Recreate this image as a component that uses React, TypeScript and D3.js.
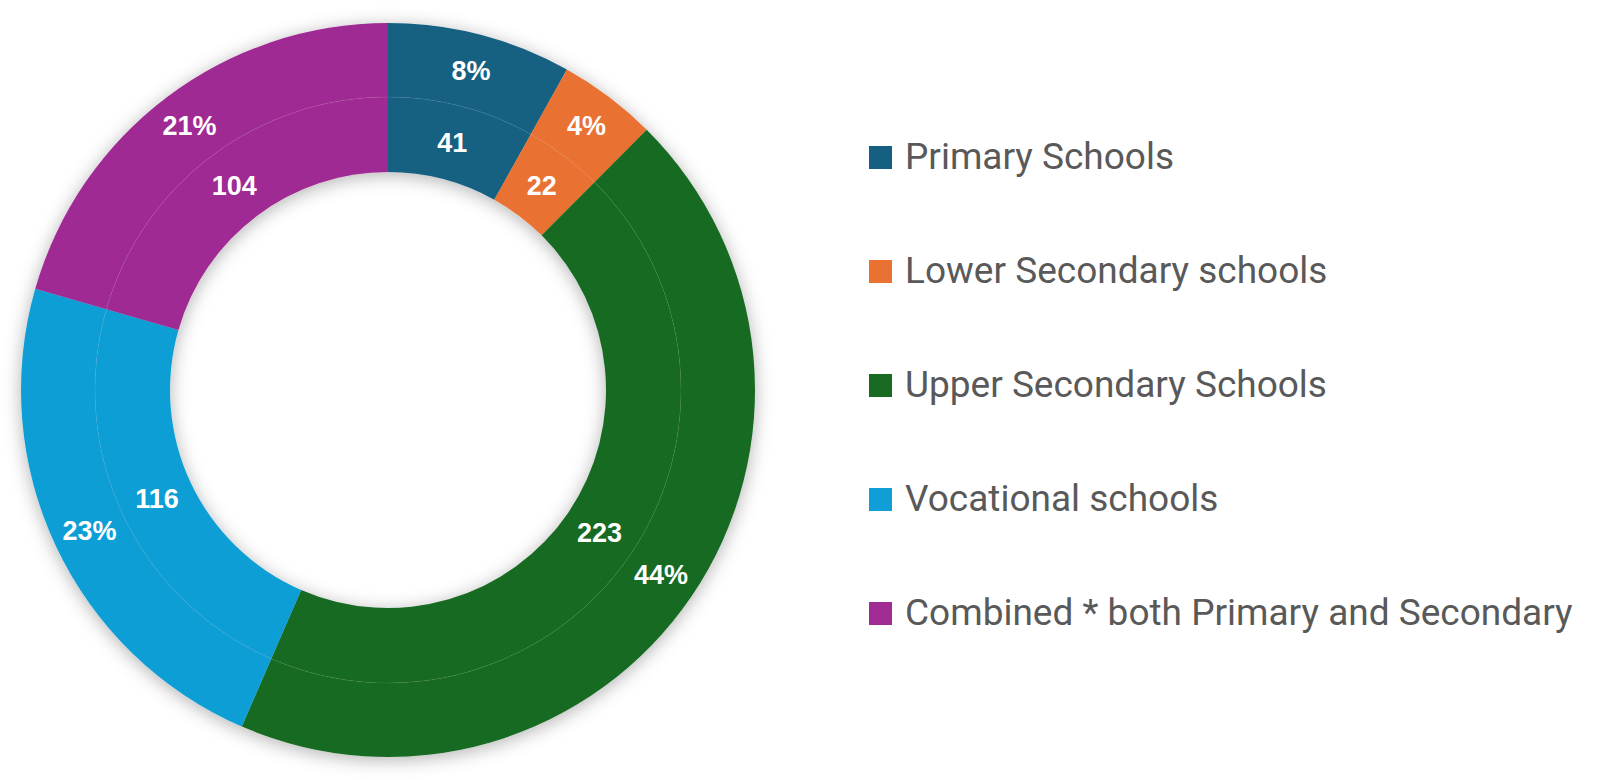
import { useEffect, useRef } from 'react';
import * as d3 from 'd3';

const categories = [
  'Primary Schools',
  'Lower Secondary schools',
  'Upper Secondary Schools',
  'Vocational schools',
  'Combined * both Primary and Secondary',
];
const schoolCounts = [41, 22, 223, 116, 104];
const sliceColors = ['#156082', '#E97132', '#196B24', '#0F9ED5', '#A02B93'];

type Slice = { name: string; count: number; color: string };

export default function App() {
  const svgRef = useRef<SVGSVGElement>(null);

  useEffect(() => {
    if (!svgRef.current) return;
    document.body.style.margin = '0';

    const svg = d3.select(svgRef.current);
    svg.selectAll('*').remove();

    const width = 1600;
    const height = 780;
    const cx = 388;
    const cy = 390;
    const holeR = 218;
    const midR = 293;
    const outerR = 367;

    svg.attr('width', width).attr('height', height);

    const data: Slice[] = categories.map((name, i) => ({
      name,
      count: schoolCounts[i],
      color: sliceColors[i],
    }));
    const total = d3.sum(data, d => d.count);
    const pct = d3.format('.0%');

    const defs = svg.append('defs');
    const filter = defs
      .append('filter')
      .attr('id', 'ringShadow')
      .attr('x', '-20%')
      .attr('y', '-20%')
      .attr('width', '140%')
      .attr('height', '140%');
    filter
      .append('feDropShadow')
      .attr('dx', 0)
      .attr('dy', 3)
      .attr('stdDeviation', 9)
      .attr('flood-color', '#000')
      .attr('flood-opacity', 0.3);

    const pie = d3.pie<Slice>().sort(null).value(d => d.count);
    const arcs = pie(data);

    const innerArc = d3.arc<d3.PieArcDatum<Slice>>().innerRadius(holeR).outerRadius(midR);
    const outerArc = d3.arc<d3.PieArcDatum<Slice>>().innerRadius(midR).outerRadius(outerR);

    const g = svg.append('g').attr('transform', `translate(${cx},${cy})`);

    const rings = g.append('g').attr('filter', 'url(#ringShadow)');
    rings
      .selectAll('.inner')
      .data(arcs)
      .enter()
      .append('path')
      .attr('class', 'inner')
      .attr('d', innerArc)
      .attr('fill', d => d.data.color);
    rings
      .selectAll('.outer')
      .data(arcs)
      .enter()
      .append('path')
      .attr('class', 'outer')
      .attr('d', outerArc)
      .attr('fill', d => d.data.color);

    // faint seam between the two rings
    g.append('circle')
      .attr('r', midR)
      .attr('fill', 'none')
      .attr('stroke', '#ffffff')
      .attr('stroke-opacity', 0.06)
      .attr('stroke-width', 1);

    const labelStyle = (sel: any) =>
      sel
        .attr('text-anchor', 'middle')
        .attr('dominant-baseline', 'central')
        .attr('fill', '#ffffff')
        .style('font-family', '"Liberation Sans", Arial, sans-serif')
        .style('font-weight', 'bold')
        .style('font-size', '27px');

    g.selectAll('.count-label')
      .data(arcs)
      .enter()
      .append('text')
      .attr('class', 'count-label')
      .attr('transform', d => `translate(${innerArc.centroid(d)})`)
      .call(labelStyle)
      .text(d => d.data.count);

    g.selectAll('.pct-label')
      .data(arcs)
      .enter()
      .append('text')
      .attr('class', 'pct-label')
      .attr('transform', d => `translate(${outerArc.centroid(d)})`)
      .call(labelStyle)
      .text(d => pct(d.data.count / total));

    // legend
    const legend = svg.append('g').attr('transform', 'translate(869,0)');
    const rowY = d3.scalePoint<string>().domain(categories).range([169, 625]);

    const rows = legend
      .selectAll('.row')
      .data(data)
      .enter()
      .append('g')
      .attr('class', 'row')
      .attr('transform', d => `translate(0,${rowY(d.name)})`);

    rows.append('rect')
      .attr('x', 0)
      .attr('y', -23)
      .attr('width', 23)
      .attr('height', 23)
      .attr('fill', d => d.color);

    rows.append('text')
      .attr('x', 36)
      .attr('y', 0)
      .attr('fill', '#595959')
      .style('font-family', 'Roboto, "Noto Sans", sans-serif')
      .style('font-size', '37px')
      .text(d => d.name);
  }, []);

  return <svg ref={svgRef} style={{ display: 'block' }}></svg>;
}
